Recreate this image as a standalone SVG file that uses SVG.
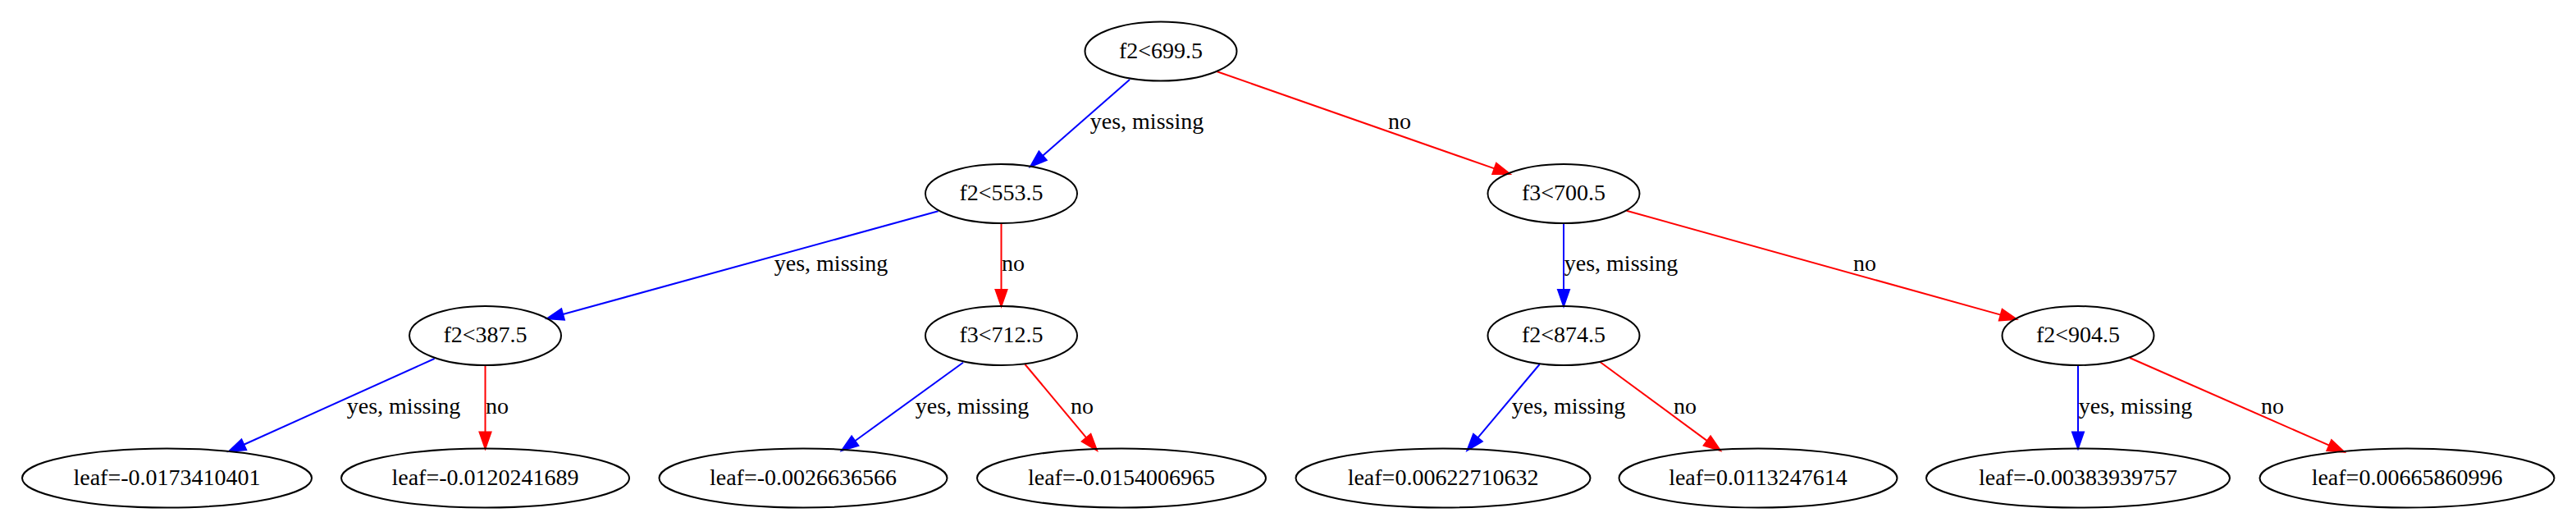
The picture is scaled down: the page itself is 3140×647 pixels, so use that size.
<svg xmlns="http://www.w3.org/2000/svg" width="3140" height="647" viewBox="0 0 3140 647">
<style>
.node ellipse{fill:none;stroke:#000;stroke-width:2}
text{font-family:"Liberation Serif","Times New Roman",serif;font-size:28px;fill:#000;text-anchor:middle}
.yes line{stroke:#0000FF;stroke-width:2}
.yes polygon{fill:#0000FF;stroke:#0000FF;stroke-width:2}
.no line{stroke:#FF0000;stroke-width:2}
.no polygon{fill:#FF0000;stroke:#FF0000;stroke-width:2}
</style>
<rect width="3140" height="647" fill="#fff"/>
<g id="connectors">
<g class="yes"><line x1="1377" y1="97" x2="1271.04" y2="189.82"/><polygon points="1266.43,184.55 1256,203 1275.65,195.09"/><text x="1398" y="157">yes, missing</text></g>
<g class="no"><line x1="1483" y1="87" x2="1821.62" y2="205.4"/><polygon points="1819.31,212.01 1840.5,212 1823.93,198.79"/><text x="1706" y="157">no</text></g>
<g class="yes"><line x1="1143.6" y1="257.3" x2="686.09" y2="383"/><polygon points="684.24,376.25 666.8,388.3 687.94,389.75"/><text x="1013" y="330">yes, missing</text></g>
<g class="no"><line x1="1220.5" y1="272" x2="1220.5" y2="353"/><polygon points="1213.5,353 1220.5,373 1227.5,353"/><text x="1235" y="330">no</text></g>
<g class="yes"><line x1="1906" y1="272" x2="1906" y2="353"/><polygon points="1899,353 1906,373 1913,353"/><text x="1976" y="330">yes, missing</text></g>
<g class="no"><line x1="1982.7" y1="256.7" x2="2438.73" y2="383.64"/><polygon points="2436.85,390.38 2458,389 2440.61,376.9"/><text x="2273" y="330">no</text></g>
<g class="yes"><line x1="529.6" y1="437" x2="297.23" y2="541.78"/><polygon points="294.35,535.4 279,550 300.11,548.16"/><text x="492" y="504">yes, missing</text></g>
<g class="no"><line x1="591.5" y1="445" x2="591.5" y2="526.5"/><polygon points="584.5,526.5 591.5,546.5 598.5,526.5"/><text x="606" y="504">no</text></g>
<g class="yes"><line x1="1174" y1="441.7" x2="1042.19" y2="537.26"/><polygon points="1038.08,531.59 1026,549 1046.3,542.93"/><text x="1185" y="504">yes, missing</text></g>
<g class="no"><line x1="1249.5" y1="444" x2="1324.17" y2="533.35"/><polygon points="1318.8,537.84 1337,548.7 1329.54,528.86"/><text x="1319" y="504">no</text></g>
<g class="yes"><line x1="1876.6" y1="444" x2="1801.38" y2="533.4"/><polygon points="1796.02,528.89 1788.5,548.7 1806.74,537.91"/><text x="1912" y="504">yes, missing</text></g>
<g class="no"><line x1="1950" y1="440.7" x2="2080.9" y2="537.14"/><polygon points="2076.75,542.78 2097,549 2085.05,531.5"/><text x="2054" y="504">no</text></g>
<g class="yes"><line x1="2533" y1="445" x2="2533" y2="526.5"/><polygon points="2526,526.5 2533,546.5 2540,526.5"/><text x="2603" y="504">yes, missing</text></g>
<g class="no"><line x1="2596" y1="436" x2="2839.18" y2="542.67"/><polygon points="2836.37,549.08 2857.5,550.7 2841.99,536.26"/><text x="2770" y="504">no</text></g>
</g>
<g id="n0" class="node"><ellipse cx="1415" cy="62.5" rx="92.5" ry="36"/><text x="1415" y="70.5">f2&lt;699.5</text></g>
<g id="n1" class="node"><ellipse cx="1220.5" cy="236" rx="92.5" ry="36"/><text x="1220.5" y="244">f2&lt;553.5</text></g>
<g id="n2" class="node"><ellipse cx="1906" cy="236" rx="92.5" ry="36"/><text x="1906" y="244">f3&lt;700.5</text></g>
<g id="n3" class="node"><ellipse cx="591.5" cy="409" rx="92.5" ry="36"/><text x="591.5" y="417">f2&lt;387.5</text></g>
<g id="n4" class="node"><ellipse cx="1220.5" cy="409" rx="92.5" ry="36"/><text x="1220.5" y="417">f3&lt;712.5</text></g>
<g id="n5" class="node"><ellipse cx="1906" cy="409" rx="92.5" ry="36"/><text x="1906" y="417">f2&lt;874.5</text></g>
<g id="n6" class="node"><ellipse cx="2533" cy="409" rx="92.5" ry="36"/><text x="2533" y="417">f2&lt;904.5</text></g>
<g id="l1" class="node"><ellipse cx="203.5" cy="582.5" rx="176.5" ry="36"/><text x="203.5" y="590.5">leaf=-0.0173410401</text></g>
<g id="l2" class="node"><ellipse cx="591.5" cy="582.5" rx="175.5" ry="36"/><text x="591.5" y="590.5">leaf=-0.0120241689</text></g>
<g id="l3" class="node"><ellipse cx="979" cy="582.5" rx="175.5" ry="36"/><text x="979" y="590.5">leaf=-0.0026636566</text></g>
<g id="l4" class="node"><ellipse cx="1367" cy="582.5" rx="176" ry="36"/><text x="1367" y="590.5">leaf=-0.0154006965</text></g>
<g id="l5" class="node"><ellipse cx="1759" cy="582.5" rx="179.5" ry="36"/><text x="1759" y="590.5">leaf=0.00622710632</text></g>
<g id="l6" class="node"><ellipse cx="2143" cy="582.5" rx="169.5" ry="36"/><text x="2143" y="590.5">leaf=0.0113247614</text></g>
<g id="l7" class="node"><ellipse cx="2533" cy="582.5" rx="185" ry="36"/><text x="2533" y="590.5">leaf=-0.00383939757</text></g>
<g id="l8" class="node"><ellipse cx="2934" cy="582.5" rx="179.5" ry="36"/><text x="2934" y="590.5">leaf=0.00665860996</text></g>
</svg>
